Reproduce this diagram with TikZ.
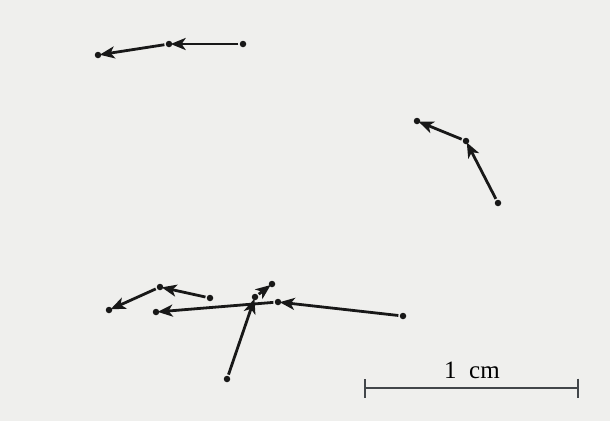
\documentclass[tikz,border=0pt]{standalone}
\usepackage{fontspec}
\setmainfont{Liberation Serif}
\usetikzlibrary{arrows.meta}

\definecolor{paper}{RGB}{239,239,237}
\definecolor{ink}{RGB}{24,24,24}
\definecolor{barink}{RGB}{66,70,74}

\begin{document}
\begin{tikzpicture}[x=1pt, y=-1pt, >={Stealth[length=15pt,width=12pt,inset=4pt]}, line width=2.8pt,
    dot/.style={circle, fill=ink, inner sep=0pt, minimum size=6.5pt},
    track/.style={->, draw=ink, shorten >=-3pt}]
    % Background
    \fill[paper] (0,0) rectangle (610,421);
    % Tracks (start, turn, end)
    \node[dot] (a0) at (243,44) {};
    \node[dot] (a1) at (169,44) {};
    \node[dot] (a2) at (98,55) {};
    \node[dot] (b0) at (498,203) {};
    \node[dot] (b1) at (466,141) {};
    \node[dot] (b2) at (417,121) {};
    \node[dot] (c0) at (210,298) {};
    \node[dot] (c1) at (160,287) {};
    \node[dot] (c2) at (109,310) {};
    \node[dot] (d0) at (403,316) {};
    \node[dot] (d1) at (278,302) {};
    \node[dot] (d2) at (156,312) {};
    \node[dot] (e0) at (227,379) {};
    \node[dot] (e1) at (255,297) {};
    \node[dot] (e2) at (272,284) {};
    \draw[track] (a0) -- (a1);
    \draw[track] (a1) -- (a2);
    \draw[track] (b0) -- (b1);
    \draw[track] (b1) -- (b2);
    \draw[track] (c0) -- (c1);
    \draw[track] (c1) -- (c2);
    \draw[track] (d0) -- (d1);
    \draw[track] (d1) -- (d2);
    \draw[track] (e0) -- (e1);
    \draw[track] (e1) -- (e2);
    % Scale bar
    \coordinate (sL) at (364,388);
    \coordinate (sR) at (579,388);
    \draw[barink, line width=2pt, {Bar[width=19pt]}-{Bar[width=19pt]}] (sL) -- (sR);
    \node[anchor=base, font=\fontsize{25}{30}\selectfont, inner sep=0pt] (scale) at (472,378) {1~~cm};
\end{tikzpicture}
\end{document}
